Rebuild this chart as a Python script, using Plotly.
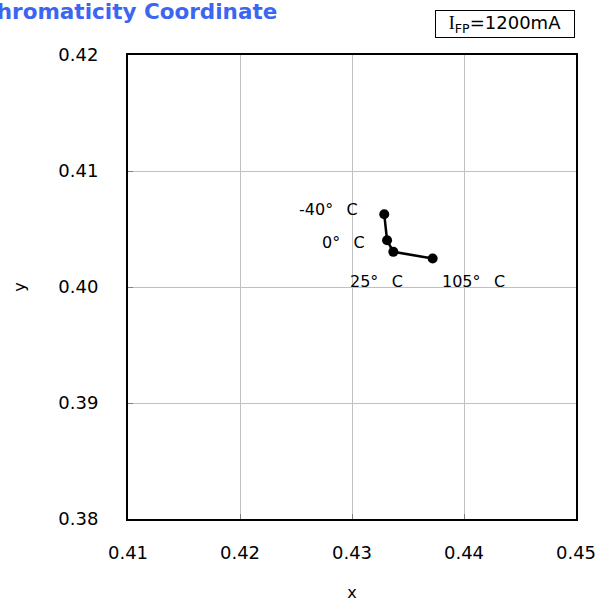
import plotly.graph_objects as go

x_vals = [0.43288, 0.43313, 0.43369, 0.43720]
y_vals = [0.40627, 0.40403, 0.40303, 0.40246]
labels = ["-40°\u00a0\u00a0\u2009C", "0°\u00a0\u00a0\u2009C", "25°\u00a0\u00a0\u2009C", "105°\u00a0\u00a0\u2009C"]
label_x = [0.43071, 0.43134, 0.42960, 0.43782]
label_y = [0.40670, 0.40386, 0.40051, 0.40051]
label_anchor = ["right", "right", "left", "left"]

fig = go.Figure()
fig.add_trace(go.Scatter(x=x_vals, y=y_vals, mode="lines+markers",
                         line=dict(color="black", width=2.5),
                         marker=dict(color="black", size=10),
                         showlegend=False, cliponaxis=False))
for lx, ly, t, a in zip(label_x, label_y, labels, label_anchor):
    fig.add_annotation(x=lx, y=ly, text=t, showarrow=False, xanchor=a,
                       yanchor="middle", font=dict(size=16, color="black"))

fig.add_annotation(xref="paper", yref="paper", x=-0.3335, y=1.093, xanchor="left",
                   yanchor="middle", text="<b>Chromaticity Coordinate</b>",
                   showarrow=False, font=dict(size=21.5, color="#3c66f2"))
fig.add_annotation(xref="paper", yref="paper", x=0.9985, y=1.066, xanchor="right",
                   yanchor="middle",
                   text="<span style='font-family:Liberation Serif'>I</span><sub>FP</sub>=1200mA",
                   showarrow=False,
                   font=dict(size=18, color="black"), bordercolor="black",
                   borderwidth=1, borderpad=1, bgcolor="white", width=136)

axis_common = dict(showgrid=True, gridcolor="#c0c0c0", gridwidth=1,
                   showline=True, linecolor="black", linewidth=2, mirror=True,
                   ticks="inside", ticklen=5, tickcolor="#808080", zeroline=False,
                   tickfont=dict(size=18, color="black"), tickformat=".2f",
                   automargin=False)
fig.update_xaxes(range=[0.41, 0.45], dtick=0.01, ticklabelstandoff=16,
                 title=dict(text="x", font=dict(size=16), standoff=36), **axis_common)
fig.update_yaxes(range=[0.38, 0.42], dtick=0.01, ticklabelstandoff=24,
                 title=dict(text="y", font=dict(size=16), standoff=29), **axis_common)
fig.update_layout(width=597, height=602, margin=dict(l=128, r=21, t=55, b=83),
                  plot_bgcolor="white", paper_bgcolor="white",
                  font=dict(family="DejaVu Sans", color="black"))
fig.write_html("out.html", config={"displayModeBar": False},
               post_script="document.body.style.margin='0';")
